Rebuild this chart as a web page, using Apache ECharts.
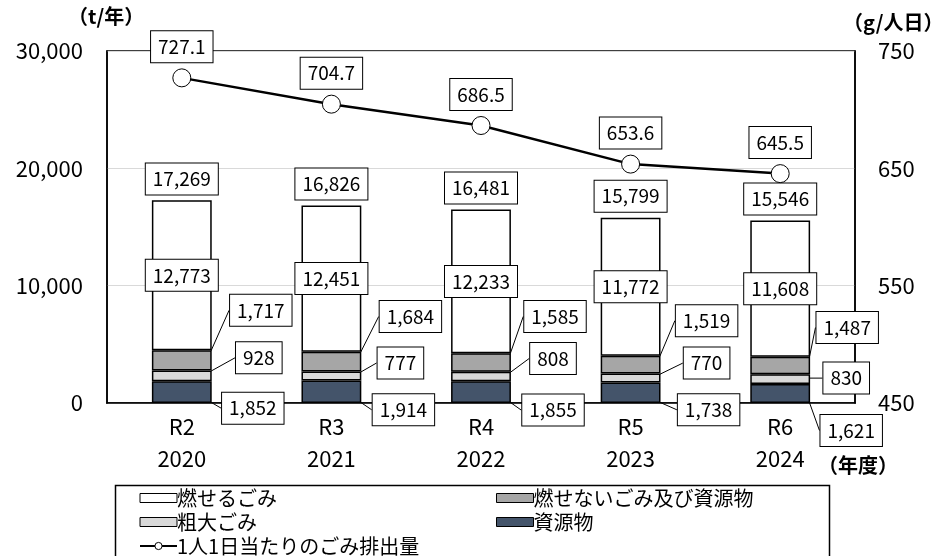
<!DOCTYPE html>
<html>
<head>
<meta charset="utf-8">
<script src="https://cdn.jsdelivr.net/npm/echarts@6/dist/echarts.min.js"></script>
<style>html,body{margin:0;padding:0;background:#fff;}#c{width:938px;height:556px;}</style>
</head>
<body>
<div id="c"></div>
<script>
const categories = ['R2\n2020', 'R3\n2021', 'R4\n2022', 'R5\n2023', 'R6\n2024'];
const shigenbutsu = [1852, 1914, 1855, 1738, 1621];
const sodaigomi = [928, 777, 808, 770, 830];
const moesenai = [1717, 1684, 1585, 1519, 1487];
const moseru = [12773, 12451, 12233, 11772, 11608];
const totals = [17269, 16826, 16481, 15799, 15546];
const perCapita = [727.1, 704.7, 686.5, 653.6, 645.5];
const leftTicks = { min: 0, max: 30000, interval: 10000 };
const rightTicks = { min: 450, max: 750, interval: 100 };

// label callout offsets (layout only)
const offMoesenai = [[79, -50], [79, -45], [74, -46], [76, -44], [67, -38]];
const offSodai = [[77, -18], [69, -13], [72, -18], [76, -15], [66, -1]];
const offShigen = [[71, 16], [72, 18], [72, 18], [78, 17], [71, 37]];

const FONT = 'Noto Sans CJK JP';
const fmt = v => Number(v).toLocaleString('en-US');
const boxLabel = {
  color: '#000', fontFamily: FONT, fontSize: 19, lineHeight: 19,
  backgroundColor: '#fff', borderColor: '#000', borderWidth: 1, padding: [6, 7]
};

function calloutSeries(name, data, color, offs) {
  return {
    name, type: 'bar', stack: 'g', data, barWidth: '40%', yAxisIndex: 0,
    itemStyle: { color, borderColor: '#000', borderWidth: 1.5 },
    label: Object.assign({ show: true, position: 'inside', formatter: p => fmt(p.value) }, boxLabel),
    labelLine: { show: true, lineStyle: { color: '#000', width: 1 } },
    labelLayout: p => ({ dx: offs[p.dataIndex][0], dy: offs[p.dataIndex][1] })
  };
}

const legendText = { fontFamily: FONT, fontSize: 20, lineHeight: 20, color: '#000', padding: [0, 0, 0, -5] };

const chart = echarts.init(document.getElementById('c'));
chart.setOption({
  animation: false,
  backgroundColor: '#fff',
  textStyle: { fontFamily: FONT },
  grid: { left: 107, right: 83, top: 51, bottom: 153, show: true, borderColor: '#000', borderWidth: 1.5, backgroundColor: 'transparent' },
  legend: [
    {
      orient: 'vertical', left: 139, top: 488, height: 90, itemGap: 4, itemWidth: 37, itemHeight: 9, padding: 0,
      data: [{ name: '燃せるごみ', icon: 'rect' }, { name: '粗大ごみ', icon: 'rect' }, { name: '1人1日当たりのごみ排出量' }],
      textStyle: legendText,
      itemStyle: { borderColor: '#000', borderWidth: 1 }
    },
    {
      orient: 'vertical', left: 496, top: 488, height: 90, itemGap: 4, itemWidth: 37, itemHeight: 9, padding: 0,
      data: [{ name: '燃せないごみ及び資源物', icon: 'rect' }, { name: '資源物', icon: 'rect' }],
      textStyle: legendText,
      itemStyle: { borderColor: '#000', borderWidth: 1 }
    }
  ],
  graphic: [
    { type: 'rect', left: 113, top: 483, shape: { width: 714, height: 90 }, style: { fill: 'none', stroke: '#000', lineWidth: 1.5 }, z: -1 },
    { type: 'text', left: 68, top: 6, style: { text: '（t/年）', font: 'bold 20px "Noto Sans CJK JP"', fill: '#000' } },
    { type: 'text', left: 843, top: 12, style: { text: '（g/人日）', font: 'bold 20px "Noto Sans CJK JP"', fill: '#000' } },
    { type: 'text', left: 818, top: 455, style: { text: '（年度）', font: 'bold 20px "Noto Sans CJK JP"', fill: '#000' } }
  ],
  xAxis: {
    type: 'category', data: categories,
    axisLine: { lineStyle: { color: '#000', width: 1.5 } },
    axisTick: { show: false },
    axisLabel: { color: '#000', fontFamily: FONT, fontSize: 22, lineHeight: 32, margin: 8 }
  },
  yAxis: [
    {
      type: 'value', min: leftTicks.min, max: leftTicks.max, interval: leftTicks.interval,
      axisLine: { show: true, lineStyle: { color: '#000', width: 1.5 } },
      axisTick: { show: false },
      splitLine: { lineStyle: { color: '#d9d9d9', width: 1 } },
      axisLabel: { color: '#000', fontFamily: FONT, fontSize: 22, margin: 24, formatter: v => fmt(v) }
    },
    {
      type: 'value', min: rightTicks.min, max: rightTicks.max, interval: rightTicks.interval,
      axisLine: { show: true, lineStyle: { color: '#000', width: 1.5 } },
      axisTick: { show: false },
      splitLine: { show: false },
      axisLabel: { color: '#000', fontFamily: FONT, fontSize: 22, margin: 23 }
    }
  ],
  series: [
    calloutSeries('資源物', shigenbutsu, '#44546A', offShigen),
    calloutSeries('粗大ごみ', sodaigomi, '#D9D9D9', offSodai),
    calloutSeries('燃せないごみ及び資源物', moesenai, '#A6A6A6', offMoesenai),
    {
      name: '燃せるごみ', type: 'bar', stack: 'g', data: moseru, barWidth: '40%', yAxisIndex: 0,
      itemStyle: { color: '#fff', borderColor: '#000', borderWidth: 1.5 },
      label: Object.assign({ show: true, position: 'inside', formatter: p => fmt(p.value) }, boxLabel)
    },
    {
      name: '合計', type: 'scatter', data: totals, yAxisIndex: 0, symbolSize: 0,
      itemStyle: { opacity: 1, color: '#000' },
      label: Object.assign({ show: true, position: 'top', distance: 6, formatter: p => fmt(p.value) }, boxLabel),
      z: 5
    },
    {
      name: '1人1日当たりのごみ排出量', type: 'line', data: perCapita, yAxisIndex: 1,
      symbol: 'circle', symbolSize: 18,
      lineStyle: { color: '#000', width: 2.5 },
      itemStyle: { color: '#fff', borderColor: '#000', borderWidth: 1 },
      label: Object.assign({ show: true, position: 'top', distance: 6, formatter: p => p.value.toFixed(1) }, boxLabel),
      z: 6
    }
  ]
});
</script>
</body>
</html>
